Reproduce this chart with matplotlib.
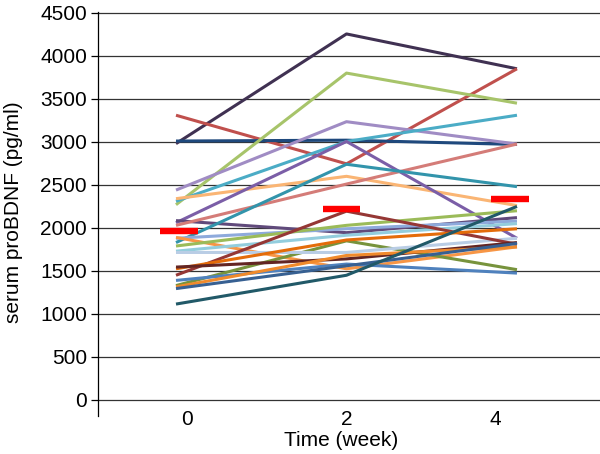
import numpy as np
import matplotlib
matplotlib.use('Agg')
import matplotlib.pyplot as plt

plt.rcParams['font.family'] = ['Liberation Sans', 'DejaVu Sans']

weeks = ['0', '2', '4']

# serum proBDNF (pg/ml) per subject at week 0, 2, 4
subjects = [
    [2980, 4255, 3850],
    [3310, 2745, 3850],
    [3010, 3020, 2970],
    [2270, 3800, 3450],
    [2440, 3235, 2975],
    [2310, 3005, 3310],
    [2340, 2600, 2260],
    [2060, 3005, 1880],
    [2085, 1945, 2120],
    [2030, 2510, 2975],
    [1830, 2740, 2480],
    [1880, 1990, 2080],
    [1890, 1525, 1780],
    [1790, 2030, 2200],
    [1330, 1850, 1515],
    [1730, 1915, 2050],
    [1715, 1715, 1880],
    [1450, 2195, 1810],
    [1525, 1860, 1990],
    [1545, 1640, 1830],
    [1390, 1580, 1475],
    [1315, 1680, 1780],
    [1295, 1560, 1820],
    [1115, 1450, 2250],
]
colors = ['#403152', '#C0504D', '#1F497D', '#A7C46A', '#A08CC4', '#4BACC6',
          '#FAB574', '#7B5EA7', '#604A7B', '#D47C78', '#3294AB', '#8EAADC',
          '#F79646', '#9BBB59', '#77933C', '#93CDDD', '#B9CDE5', '#953735',
          '#E46C0A', '#632523', '#4F81BD', '#F08A2C', '#376092', '#215968']

means = [1970, 2220, 2340]

fig = plt.figure(figsize=(6, 4.54), dpi=100)
ax = fig.add_axes([98 / 600, 38 / 454, 502 / 600, 404 / 454])

x = np.arange(len(weeks))
for vals, c in zip(subjects, colors):
    ax.plot(x, vals, color=c, lw=2.2, solid_capstyle='butt', zorder=2)

mean_x = x + np.array([0.018, -0.03, -0.04])
ax.hlines(means, mean_x - 0.11, mean_x + 0.11, color='#FF0000', lw=4.6, zorder=3)

ax.set_xlim(-0.4575, 2.487)
ax.set_ylim(-186, 4510)
ax.set_yticks(np.arange(0, 4501, 500))
ax.yaxis.grid(True, color='#333333', lw=0.9)
ax.set_axisbelow(True)
ax.tick_params(axis='y', direction='out', length=5, width=0.9, labelsize=15, pad=3)

ax.set_xticks(x + np.array([0.065, 0.003, -0.129]))
ax.set_xticklabels(weeks)
ax.tick_params(axis='x', length=0, labelsize=15, pad=-4)

for s in ['top', 'right', 'bottom']:
    ax.spines[s].set_visible(False)
ax.spines['left'].set_linewidth(0.9)

fig.text(341 / 600, 1 - 440 / 454, 'Time (week)', ha='center', va='center', fontsize=15)
fig.text(14 / 600, 1 - 212 / 454, 'serum proBDNF (pg/ml)', ha='center', va='center',
         rotation=90, fontsize=15)

fig.savefig('out.png', dpi=100)
